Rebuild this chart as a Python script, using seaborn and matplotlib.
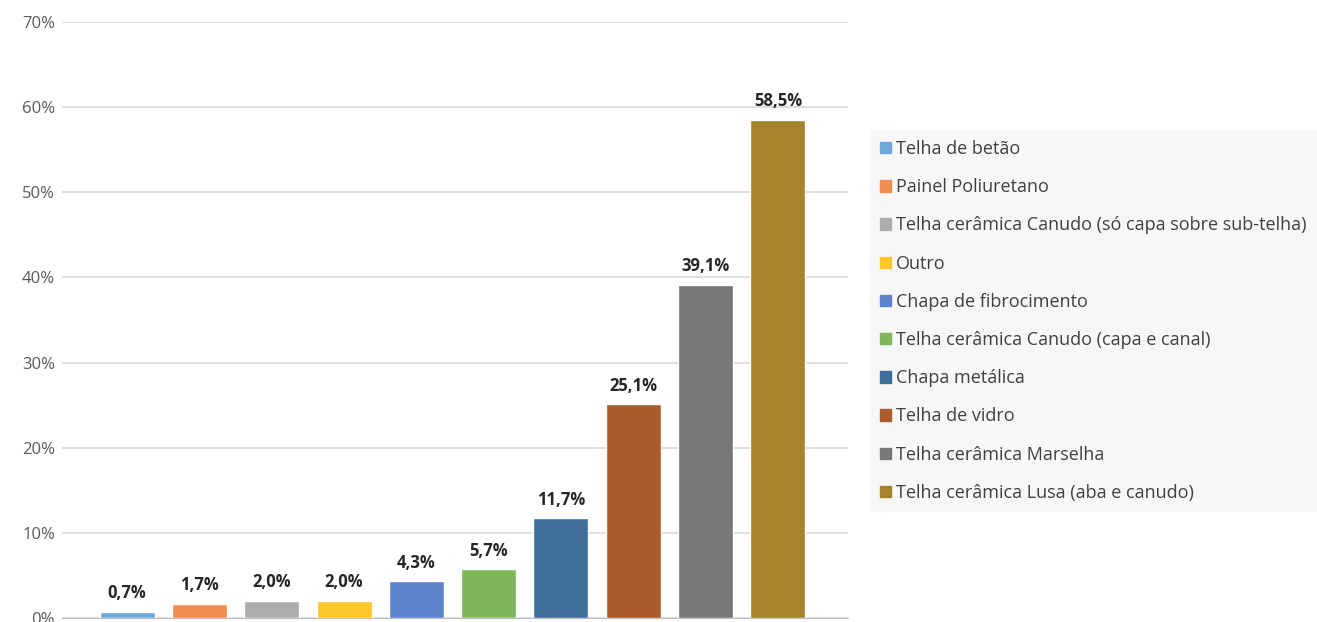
import matplotlib
matplotlib.use('Agg')
import matplotlib.pyplot as plt
import matplotlib.patches as mpatches
import seaborn as sns

categories = ['Telha de betão', 'Painel Poliuretano',
              'Telha cerâmica Canudo (só capa sobre sub-telha)', 'Outro',
              'Chapa de fibrocimento', 'Telha cerâmica Canudo (capa e canal)',
              'Chapa metálica', 'Telha de vidro', 'Telha cerâmica Marselha',
              'Telha cerâmica Lusa (aba e canudo)']
values = [0.7, 1.7, 2.0, 2.0, 4.3, 5.7, 11.7, 25.1, 39.1, 58.5]
colors = ['#6FA7DB', '#F08E4F', '#ADADAD', '#FFC729', '#5B84CB', '#7FB659',
          '#3D6E9C', '#A85B2B', '#787878', '#A6852A']
yticks = [0, 10, 20, 30, 40, 50, 60, 70]

sns.set_style('white')
plt.rcParams['font.family'] = ['Open Sans', 'DejaVu Sans']

fig = plt.figure(figsize=(13.17, 6.22), dpi=100)
ax = fig.add_axes([0.0471, 0.0064, 0.5968, 0.9582])

sns.barplot(x=categories, y=values, hue=categories, palette=colors,
            saturation=1, width=0.76, legend=False, ax=ax)

ax.set_ylim(0, 70)
ax.set_xlim(-0.9, 9.97)
ax.set_yticks(yticks)
ax.set_yticklabels([f'{t}%' for t in yticks], color='#595959', fontsize=12)
ax.set_xticks([])
ax.set(xlabel=None, ylabel=None)
ax.yaxis.grid(True, color='#D9D9D9', linewidth=1.2)
ax.set_axisbelow(True)
for s in ['top', 'right', 'left']:
    ax.spines[s].set_visible(False)
ax.spines['bottom'].set_color('#BFBFBF')
ax.tick_params(axis='y', length=0, pad=5)

for i, v in enumerate(values):
    ax.annotate(f'{v:.1f}%'.replace('.', ','), (i, v), xytext=(0, 7),
                textcoords='offset points', ha='center', va='bottom',
                fontsize=12, fontweight='bold', color='#262626')

handles = [mpatches.Patch(color=c, label=l) for c, l in zip(colors, categories)]
leg = fig.legend(handles=handles, loc='upper left',
                 bbox_to_anchor=(870 / 1317, 1 - 130 / 622),
                 frameon=True, fancybox=False, fontsize=13,
                 handlelength=0.6, handleheight=0.6, handletextpad=0.3,
                 labelspacing=1.12, borderpad=0.55, borderaxespad=0)
leg.get_frame().set_facecolor('#F5F5F5')
leg.get_frame().set_edgecolor('none')
for t in leg.get_texts():
    t.set_color('#404040')

fig.savefig('out.png', dpi=100)
